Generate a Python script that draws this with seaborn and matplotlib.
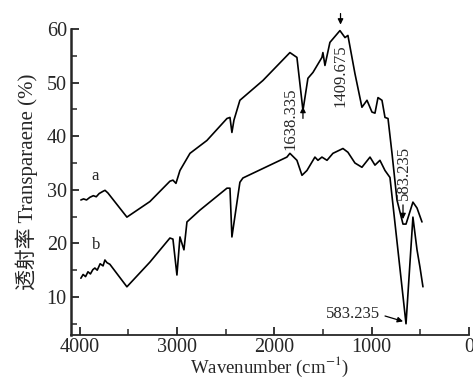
import matplotlib
matplotlib.use("Agg")
import matplotlib.pyplot as plt
import seaborn as sns
import pandas as pd
from matplotlib.ticker import MultipleLocator

# ---- data ----
wn_a = [3988, 3960, 3930, 3895, 3860, 3830, 3800, 3762, 3740, 3710, 3515, 3279, 3073, 3042, 3011,
        2970, 2867, 2693, 2487, 2456, 2436, 2415, 2354, 2117, 1840, 1768, 1706, 1655, 1603,
        1511, 1501, 1480, 1429, 1326, 1274, 1244, 1172, 1100, 1048, 997, 966, 935, 894,
        863, 832, 791, 740, 678, 647, 576, 534, 483]
tr_a = [28.1, 28.3, 28.1, 28.6, 28.9, 28.7, 29.3, 29.7, 29.9, 29.4, 24.9, 27.8, 31.6, 31.8, 31.2,
        33.6, 36.8, 39.2, 43.3, 43.5, 40.7, 43.0, 46.7, 50.4, 55.6, 54.7, 44.8, 50.8, 51.9,
        54.7, 55.6, 53.2, 57.5, 59.7, 58.4, 58.8, 51.7, 45.4, 46.7, 44.5, 44.3, 47.2, 46.7,
        43.5, 43.3, 36.8, 28.1, 23.6, 23.6, 27.7, 26.6, 24.0]

wn_b = [3988, 3965, 3940, 3915, 3890, 3865, 3844, 3820, 3790, 3760, 3741, 3720, 3690, 3515, 3279,
        3073, 3042, 3001, 2970, 2929, 2898, 2765, 2487, 2456, 2436, 2354, 2323, 1871, 1840,
        1768, 1716, 1665, 1583, 1552, 1511, 1459, 1398, 1295, 1244, 1172, 1100, 1017, 966,
        915, 863, 812, 647, 576, 534, 504, 473]
tr_b = [13.5, 14.2, 13.8, 14.7, 14.3, 15.1, 15.4, 15.0, 16.2, 15.8, 16.9, 16.4, 16.1, 11.9, 16.5,
        21.0, 20.8, 14.1, 21.2, 18.8, 24.0, 26.2, 30.3, 30.3, 21.2, 31.4, 32.2, 36.1, 36.8,
        35.5, 32.7, 33.6, 36.1, 35.5, 36.1, 35.5, 36.8, 37.7, 37.0, 35.0, 34.2, 36.1, 34.6,
        35.5, 33.6, 32.3, 5.0, 24.9, 18.8, 15.6, 11.9]

x_ticks = [4000, 3000, 2000, 1000, 0]
y_ticks = [10, 20, 30, 40, 50, 60]
ylabel = "透射率 Transparaene (%)"
xlabel = "Wavenumber (cm$^{-1}$)"

sns.set_style("ticks")
plt.rcParams["font.family"] = ["Liberation Serif", "Noto Sans CJK SC", "DejaVu Sans"]
plt.rcParams["mathtext.fontset"] = "stix"

fig = plt.figure(figsize=(4.73, 3.79), dpi=100)
ax = fig.add_axes([0.150, 0.116, 0.8415, 0.8075])

df_a = pd.DataFrame({"wn": wn_a, "T": tr_a})
df_b = pd.DataFrame({"wn": wn_b, "T": tr_b})
sns.lineplot(data=df_a, x="wn", y="T", ax=ax, color="black", lw=1.2, sort=False, estimator=None)
sns.lineplot(data=df_b, x="wn", y="T", ax=ax, color="black", lw=1.2, sort=False, estimator=None)

ax.set_xlim(4090, 0)
ax.set_ylim(2.9, 60)
ax.set_xticks(x_ticks)
ax.set_yticks(y_ticks)
ax.xaxis.set_minor_locator(MultipleLocator(500))
ax.yaxis.set_minor_locator(MultipleLocator(5))
ax.tick_params(which="major", direction="in", length=6, width=1.3, labelsize=14.5, pad=3)
ax.tick_params(axis="x", which="major", pad=2)
ax.tick_params(which="minor", direction="in", length=4, width=1.1)
for s in ["top", "right"]:
    ax.spines[s].set_visible(False)
ax.spines["left"].set_linewidth(1.8)
ax.spines["bottom"].set_linewidth(1.3)

ax.set_xlabel(xlabel, fontsize=13.5)
ax.xaxis.set_label_coords(0.5, -0.066)
ax.set_ylabel(ylabel, fontsize=15, labelpad=6)

# curve labels
ax.text(3844, 31.0, "a", fontsize=12, ha="center", va="bottom")
ax.text(3834, 18.2, "b", fontsize=12, ha="center", va="bottom")

# annotations
ap = dict(arrowstyle="-|>", color="black", lw=0.9, mutation_scale=8)
ax.annotate("", xy=(1706, 46.0), xytext=(1706, 42.8), arrowprops=ap)
ax.text(1830, 43.3, "1638.335", rotation=90, fontsize=12, ha="center", va="center")
ax.annotate("", xy=(1320, 60.3), xytext=(1320, 63.4), arrowprops=ap, annotation_clip=False)
ax.text(1316, 51.2, "1409.675", rotation=90, fontsize=12, ha="center", va="center")
ax.annotate("", xy=(678, 24.0), xytext=(678, 27.7), arrowprops=ap)
ax.text(668, 33.1, "583.235", rotation=90, fontsize=12, ha="center", va="center")
ax.annotate("", xy=(650, 5.3), xytext=(890, 6.6), arrowprops=ap)
ax.text(1195, 6.8, "583.235", fontsize=12, ha="center", va="center")

fig.savefig("out.png", dpi=100)
